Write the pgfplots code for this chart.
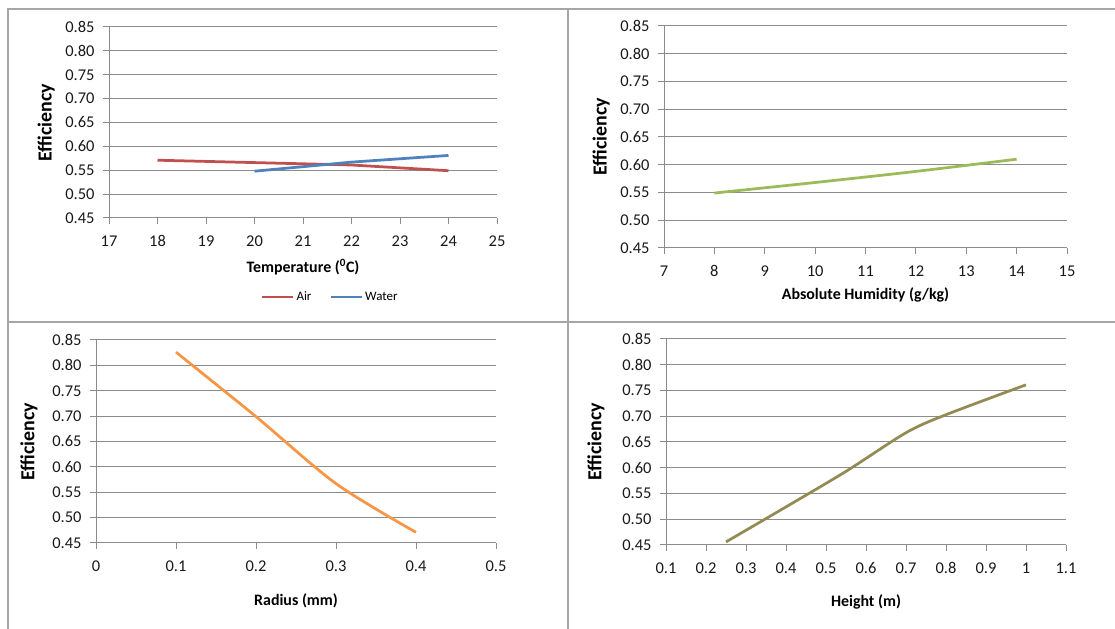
\documentclass[border=0pt]{standalone}
\usepackage{fontspec}
\setmainfont{Carlito}
\usepackage{pgfplots}
\pgfplotsset{compat=1.18}

\definecolor{airred}{HTML}{C0504D}
\definecolor{waterblue}{HTML}{4F81BD}
\definecolor{hgreen}{HTML}{9BBB59}
\definecolor{rorange}{HTML}{F79646}
\definecolor{holive}{HTML}{948A54}
\definecolor{gridgray}{HTML}{8C8C8C}
\definecolor{framegray}{HTML}{A6A6A6}

\pgfplotsset{
 panel/.style={
  scale only axis, anchor=north west,
  axis lines*=left, axis line style={gridgray, line width=1bp, -},
  tick align=outside, tick pos=left, major tick length=6bp,
  every tick/.style={gridgray, line width=1bp},
  ymajorgrids, grid style={gridgray, line width=1bp},
  ymin=0.45, ymax=0.85, ytick={0.45,0.50,0.55,0.60,0.65,0.70,0.75,0.80,0.85},
  yticklabel style={xshift=-5bp, /pgf/number format/.cd, fixed, fixed zerofill, precision=2, assume math mode=true},
  xticklabel style={yshift=-8bp, /pgf/number format/.cd, assume math mode=true},
  tick label style={font=\fontsize{16.5}{19}\selectfont, text=black!90},
  ylabel={Efficiency},
  ylabel style={font=\bfseries\fontsize{20}{24}\selectfont, anchor=center},
  xlabel style={font=\bfseries\fontsize{16}{19}\selectfont, anchor=center},
  scaled ticks=false,
  clip=false,
 }
}

\begin{document}
\begin{tikzpicture}
\useasboundingbox (0,0) rectangle (1115bp,629bp);
% panel frames
\draw[framegray, line width=2bp] (8bp,0bp) -- (8bp,620bp) -- (1115bp,620bp);
\draw[framegray, line width=2bp] (568bp,620bp) -- (568bp,0bp);
\draw[framegray, line width=2bp] (8bp,307bp) -- (1115bp,307bp);

% Panel 1
\begin{axis}[panel, at={(109bp,602bp)}, width=388bp, height=191bp,
  xmin=17, xmax=25, xtick={17,18,19,20,21,22,23,24,25},
  xlabel={Temperature (\textsuperscript{0}C)},
  xlabel style={at={(axis description cs:0.5,-0.2565)}},
  ylabel style={at={(axis description cs:-0.162,0.5)}},
  legend style={at={(axis description cs:0.57,-0.414)}, anchor=center, draw=none, fill=none,
    legend columns=2, font=\fontsize{13}{15}\selectfont, inner sep=0pt,
    /tikz/every even column/.append style={column sep=16bp}},
  legend cell align=left,
  legend image code/.code={\draw[#1] (0bp,0bp) -- (31bp,0bp);},
  ]
\addplot[airred, line width=2.75bp] coordinates {(18,0.571) (20,0.566) (22,0.561) (24,0.549)};
\addlegendentry{Air}
\addplot[waterblue, line width=2.75bp] coordinates {(20,0.548) (22,0.567) (24,0.581)};
\addlegendentry{Water}
\end{axis}

% Panel 2
\begin{axis}[panel, at={(664bp,603bp)}, width=403bp, height=222bp,
  xmin=7, xmax=15, xtick={7,8,9,10,11,12,13,14,15},
  xlabel={Absolute Humidity (g/kg)},
  xlabel style={at={(axis description cs:0.5,-0.2117)}},
  ylabel style={at={(axis description cs:-0.156,0.5)}},
  ]
\addplot[hgreen, line width=2.75bp, smooth, tension=0.5] coordinates {(8,0.549) (10,0.568) (12,0.588) (14,0.610)};
\end{axis}

% Panel 3
\begin{axis}[panel, at={(96bp,289bp)}, width=400bp, height=203bp,
  xmin=0, xmax=0.5, xtick={0,0.1,0.2,0.3,0.4,0.5},
  xlabel={Radius (mm)},
  xlabel style={at={(axis description cs:0.5,-0.2857)}},
  ylabel style={at={(axis description cs:-0.1675,0.5)}},
  ]
\addplot[rorange, line width=2.75bp, smooth, tension=0.5] coordinates {(0.1,0.826) (0.2,0.699) (0.3,0.567) (0.4,0.471)};
\end{axis}

% Panel 4
\begin{axis}[panel, at={(666bp,290bp)}, width=400bp, height=206bp,
  xmin=0.1, xmax=1.1, xtick={0.1,0.2,0.3,0.4,0.5,0.6,0.7,0.8,0.9,1,1.1},
  xlabel={Height (m)},
  xlabel style={at={(axis description cs:0.5,-0.2767)}},
  ylabel style={at={(axis description cs:-0.175,0.5)}},
  ]
\addplot[holive, line width=2.75bp, smooth, tension=0.5] coordinates {(0.25,0.456) (0.4,0.524) (0.55,0.593) (0.7,0.668) (0.8,0.703) (1.0,0.761)};
\end{axis}
\end{tikzpicture}
\end{document}
